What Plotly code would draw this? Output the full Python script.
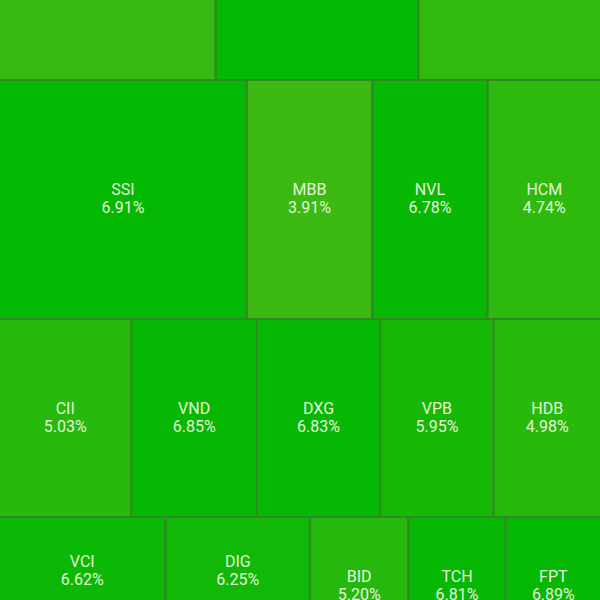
import plotly.graph_objects as go
from plotly.colors import find_intermediate_color, hex_to_rgb

# ---- data (values = relative tile size, pct = daily change %) ----
tickers = ["STB", "VIX", "GEX",
           "SSI", "MBB", "NVL", "HCM",
           "CII", "VND", "DXG", "VPB", "HDB",
           "VCI", "DIG", "SHB",
           "BID", "TCH", "FPT", "HPG"]
pct = [4.20, 6.90, 4.50,
       6.91, 3.91, 6.78, 4.74,
       5.03, 6.85, 6.83, 5.95, 4.98,
       6.62, 6.25, 5.50,
       5.20, 6.81, 6.89, 5.80]
values = [51840, 48480, 43680,
          59033, 29875, 27485, 27007,
          26136, 24750, 24354, 22374, 21186,
          18094, 15696, 59210,
          13524, 13386, 13110, 46980]

# grouping of the tiles (slice-and-dice structure)
groups = ("v", [
    ("h", ["STB", "VIX", "GEX"]),
    ("h", ["SSI", "MBB", "NVL", "HCM"]),
    ("h", ["CII", "VND", "DXG", "VPB", "HDB"]),
    ("h", [
        ("v", [("h", ["VCI", "DIG"]), ("h", ["SHB"])]),
        ("v", [("h", ["BID", "TCH", "FPT"]), ("h", ["HPG"])]),
    ]),
])

# visible window (zoomed-in view of the treemap)
view_x = [1, 599]
view_y = [160, 760]

# ---- layout computation ----
val = dict(zip(tickers, values))
chg = dict(zip(tickers, pct))
W = 600.0


def node_value(n):
    if isinstance(n, str):
        return val[n]
    return sum(node_value(c) for c in n[1])


rects = {}


def place(n, x, y, w, h):
    if isinstance(n, str):
        rects[n] = (x, y, w, h)
        return
    kind, children = n
    tot = node_value(n)
    for c in children:
        f = node_value(c) / tot
        if kind == "v":
            place(c, x, y, w, h * f)
            y += h * f
        else:
            place(c, x, y, w * f, h)
            x += w * f


H = node_value(groups) / W
place(groups, 0, 0, W, H)

low_c, high_c = "#3cb912", "#03b803"
pmin, pmax = 3.9, 7.0


def color_for(p):
    t = min(max((p - pmin) / (pmax - pmin), 0), 1)
    c = find_intermediate_color(hex_to_rgb(low_c), hex_to_rgb(high_c), t)
    return "rgb(%d,%d,%d)" % tuple(round(v) for v in c)


fig = go.Figure()
border = "#2f8a22"
for t in tickers:
    x, y, w, h = rects[t]
    fig.add_trace(go.Scatter(
        x=[x, x + w, x + w, x, x], y=[y, y, y + h, y + h, y],
        mode="lines", fill="toself", fillcolor=color_for(chg[t]),
        line=dict(color=border, width=2), hoverinfo="skip"))

# labels only for tiles whose centre lies inside the visible window
shown = [t for t in tickers
         if view_y[0] < rects[t][1] + rects[t][3] / 2 < view_y[1]]
cx = [rects[t][0] + rects[t][2] / 2 for t in shown]
cy = [rects[t][1] + rects[t][3] / 2 for t in shown]
font = dict(family="Roboto", size=16, color="#e4f4d8")
fig.add_trace(go.Scatter(x=cx, y=[v - 8.5 for v in cy], mode="text", text=shown,
                         textposition="middle center", textfont=font, hoverinfo="skip"))
fig.add_trace(go.Scatter(x=cx, y=[v + 9.5 for v in cy], mode="text",
                         text=["%.2f%%" % chg[t] for t in shown],
                         textposition="middle center", textfont=font, hoverinfo="skip"))

fig.update_layout(
    width=600, height=600, margin=dict(l=0, r=0, t=0, b=0),
    showlegend=False, paper_bgcolor=border, plot_bgcolor=border,
    xaxis=dict(range=view_x, visible=False, fixedrange=True),
    yaxis=dict(range=view_y[::-1], visible=False, fixedrange=True),
)
fig.write_html("out.html", config={"displayModeBar": False},
               post_script="document.body.style.margin='0';")
